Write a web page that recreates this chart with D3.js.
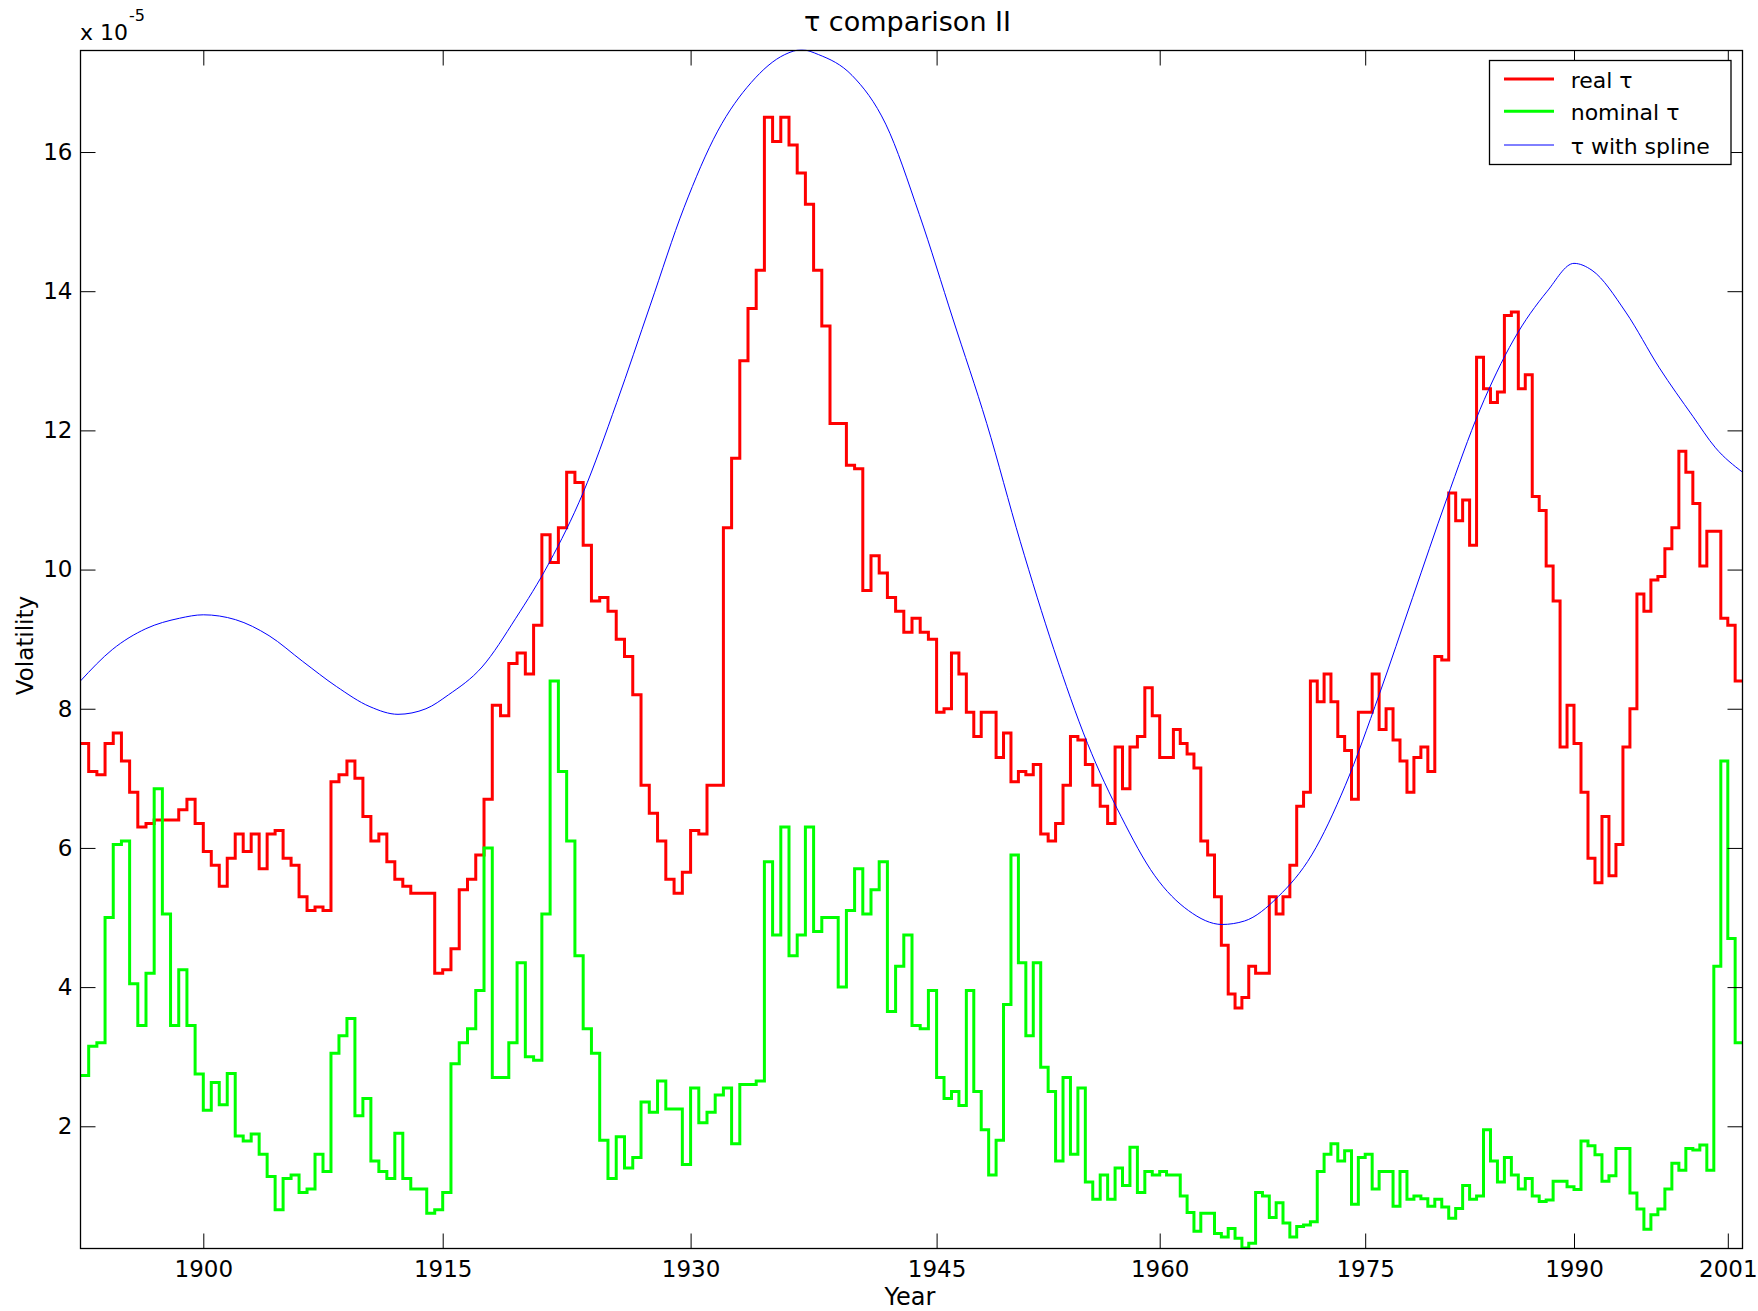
<!DOCTYPE html>
<html>
<head>
<meta charset="utf-8">
<script src="https://cdn.jsdelivr.net/npm/d3@7"></script>
<style>
  html, body { margin: 0; padding: 0; background: #fff; }
  svg { display: block; font-family: "DejaVu Sans", sans-serif; }
</style>
</head>
<body>
<svg id="chart" width="1758" height="1311"></svg>
<script>
// Semi-annual volatility estimates (units of 1e-5), first period starts mid-1892.
const periodStart = 1892.5;
const periodLength = 0.5;

const realTau = [
  7.5,7.1,7.05,7.5,7.65,7.25,6.8,6.3,6.35,6.4,6.4,6.4,6.55,6.7,6.35,
  5.95,5.75,5.45,5.85,6.2,5.95,6.2,5.7,6.2,6.25,5.85,5.75,5.3,5.1,5.15,5.1,6.95,7.05,7.25,7.0,6.45,6.1,6.2,5.8,5.55,5.45,5.35,5.35,5.35,4.2,
  4.25,4.55,5.4,5.55,5.9,6.7,8.05,7.9,8.65,8.8,8.5,9.2,10.5,10.1,10.6,11.4,11.25,10.35,9.55,9.6,9.4,9.0,8.75,8.2,6.9,6.5,6.1,5.55,5.35,5.65,
  6.25,6.2,6.9,6.9,10.6,11.6,13.0,13.75,14.3,16.5,16.15,16.5,16.1,15.7,15.25,14.3,13.5,12.1,12.1,11.5,11.45,9.7,10.2,9.95,9.6,9.4,9.1,9.3,9.1,9.0,
  7.95,8.0,8.8,8.5,7.95,7.6,7.95,7.95,7.3,7.65,6.95,7.1,7.05,7.2,6.2,6.1,6.35,6.9,7.6,7.55,7.2,6.9,6.6,6.35,7.45,6.85,7.45,7.6,8.3,7.9,
  7.3,7.3,7.7,7.5,7.35,7.15,6.1,5.9,5.3,4.6,3.9,3.7,3.85,4.3,4.2,4.2,5.3,5.05,5.3,5.75,6.6,6.8,8.4,8.1,8.5,8.1,7.6,7.4,6.7,7.95,
  7.95,8.5,7.7,8.0,7.55,7.25,6.8,7.3,7.45,7.1,8.75,8.7,11.1,10.7,11.0,10.35,13.05,12.6,12.4,12.55,13.65,13.7,12.6,12.8,11.05,10.85,10.05,9.55,7.45,8.05,
  7.5,6.8,5.85,5.5,6.45,5.6,6.05,7.45,8.0,9.65,9.4,9.85,9.9,10.3,10.6,11.7,11.4,10.95,10.05,10.55,10.55,9.3,
  9.2,8.4
];

const nominalTau = [
  2.73,3.15,3.2,5.0,6.05,6.1,4.05,3.45,4.2,6.85,5.05,3.45,4.25,3.45,2.75,
  2.23,2.63,2.31,2.76,1.86,1.79,1.89,1.6,1.28,0.8,1.25,1.3,1.05,1.1,1.6,1.35,3.05,3.3,3.55,2.15,2.4,1.5,1.35,1.25,1.9,1.25,1.1,1.1,0.75,0.8,
  1.05,2.9,3.2,3.4,3.95,6.0,2.7,2.7,3.2,4.35,3.0,2.95,5.05,8.4,7.1,6.1,4.45,3.4,3.05,1.8,1.25,1.85,1.4,1.55,2.35,2.2,2.65,2.25,2.25,1.45,
  2.55,2.05,2.2,2.45,2.55,1.75,2.6,2.6,2.65,5.8,4.75,6.3,4.45,4.75,6.3,4.8,5.0,5.0,4.0,5.1,5.7,5.05,5.4,5.8,3.65,4.3,4.75,3.45,3.4,3.95,
  2.7,2.4,2.5,2.3,3.95,2.5,1.95,1.3,1.8,3.75,5.9,4.35,3.3,4.35,2.85,2.5,1.5,2.7,1.6,2.55,1.2,0.95,1.3,0.95,1.4,1.15,1.7,1.05,1.35,1.3,
  1.35,1.3,1.3,1.0,0.76,0.49,0.75,0.75,0.46,0.41,0.53,0.39,0.25,0.32,1.05,1.0,0.69,0.9,0.61,0.41,0.56,0.58,0.63,1.35,1.6,1.75,1.5,1.65,0.88,1.55,
  1.6,1.1,1.35,1.35,0.85,1.35,0.95,1.0,0.96,0.85,0.95,0.84,0.68,0.82,1.15,0.95,1.0,1.95,1.5,1.2,1.55,1.3,1.1,1.25,1.0,0.92,0.94,1.21,1.21,1.13,
  1.09,1.79,1.72,1.59,1.21,1.29,1.68,1.68,1.04,0.81,0.52,0.73,0.81,1.1,1.47,1.37,1.68,1.66,1.73,1.37,4.3,7.25,
  4.7,3.2
];

// Spline-smoothed volatility: sample dates (years) and values.
const splineYear = [1892.5,1894.44,1896.49,1898.54,1900,1902.02,1904.12,1906.23,1908.34,1910.44,1912.2,1913.95,1915.35,1917.38,1919.42,1921.45,1923.49,1925.53,1927.56,1929.6,1931.65,1933.7,1935.74,1936.77,1937.8,1939.85,1941.9,1943.95,1946.1,1948.37,1950.63,1952.89,1955.15,1957.41,1959.67,1962.1,1964.55,1966.19,1968.65,1971.1,1973.55,1976.0,1978.41,1980.83,1983.25,1985.66,1988.08,1990.0,1991.29,1993.7,1996.1,1998.51,2000.12,2002];
const splineTau  = [8.4,8.85,9.15,9.3,9.35,9.28,9.05,8.68,8.32,8.03,7.92,8.0,8.2,8.6,9.3,10.1,11.1,12.4,13.8,15.2,16.3,17.0,17.4,17.47,17.4,17.1,16.4,15.1,13.6,12.1,10.4,8.85,7.5,6.45,5.6,5.1,4.9,4.95,5.3,5.9,6.9,8.2,9.6,11.0,12.3,13.3,14.0,14.4,14.3,13.7,12.9,12.2,11.75,11.4];

const yearTicks = [1900,1915,1930,1945,1960,1975,1990,2001];
const voltTicks = [2,4,6,8,10,12,14,16];
const voltRange = [0.241, 17.466];

const plot = {left: 80.5, right: 1742.5, top: 50.5, bottom: 1248.5};

// The horizontal axis runs in trading time, so calendar years are not evenly spaced:
// the scale is piecewise linear between the labelled years.
const xAnchorsYear = [1892.5, 1900, 1915, 1930, 1945, 1960, 1975, 1990, 2001, 2002];
const xAnchorsPx   = [80.5, 203.3, 442.7, 690.6, 936.6, 1159.7, 1365.2, 1574.0, 1727.8, 1742.5];
const x = d3.scaleLinear().domain(xAnchorsYear).range(xAnchorsPx);
const y = d3.scaleLinear().domain(voltRange).range([1248.7, 50]);

const svg = d3.select("#chart");
svg.append("defs").append("clipPath").attr("id", "plotClip")
  .append("rect").attr("x", plot.left).attr("y", plot.top - 1)
  .attr("width", plot.right - plot.left).attr("height", plot.bottom - plot.top + 2);

// one point per period start plus a closing point at the end of the last period
function periodPoints(values) {
  const pts = values.map((v, i) => [periodStart + i * periodLength, v]);
  pts.push([periodStart + values.length * periodLength, values[values.length - 1]]);
  return pts;
}

const stepLine = d3.line().x(d => x(d[0])).y(d => y(d[1])).curve(d3.curveStepAfter);
const smoothLine = d3.line().x(d => x(d[0])).y(d => y(d[1])).curve(d3.curveMonotoneX);

const g = svg.append("g").attr("clip-path", "url(#plotClip)");
g.append("path").datum(periodPoints(realTau))
  .attr("d", stepLine).attr("fill", "none").attr("stroke", "#ff0000").attr("stroke-width", 3);
g.append("path").datum(periodPoints(nominalTau))
  .attr("d", stepLine).attr("fill", "none").attr("stroke", "#00ff00").attr("stroke-width", 3);
g.append("path").datum(splineYear.map((t, i) => [t, splineTau[i]]))
  .attr("d", smoothLine).attr("fill", "none").attr("stroke", "#0000ff").attr("stroke-width", 1);

// axes on all four sides with inward ticks
const tickLen = 15;
const bottomAxis = d3.axisBottom(x).tickValues(yearTicks).tickFormat(d3.format("d"))
  .tickSizeInner(-tickLen).tickSizeOuter(0).tickPadding(12);
const topAxis = d3.axisTop(x).tickValues(yearTicks).tickFormat("").tickSizeInner(-tickLen).tickSizeOuter(0);
const leftAxis = d3.axisLeft(y).tickValues(voltTicks).tickFormat(d3.format("d"))
  .tickSizeInner(-tickLen).tickSizeOuter(0).tickPadding(8);
const rightAxis = d3.axisRight(y).tickValues(voltTicks).tickFormat("").tickSizeInner(-tickLen).tickSizeOuter(0);

function styleAxis(sel) {
  sel.select(".domain").remove();
  sel.attr("font-family", null).attr("font-size", null);
  sel.selectAll("line").attr("stroke", "#000").attr("stroke-width", 1);
  sel.selectAll("text").attr("fill", "#000").style("font-size", "23px");
}

svg.append("g").attr("transform", `translate(0,${plot.bottom})`).call(bottomAxis).call(styleAxis);
svg.append("g").attr("transform", `translate(0,${plot.top})`).call(topAxis).call(styleAxis);
svg.append("g").attr("transform", `translate(${plot.left},0)`).call(leftAxis).call(styleAxis);
svg.append("g").attr("transform", `translate(${plot.right},0)`).call(rightAxis).call(styleAxis);

svg.append("rect").attr("x", plot.left).attr("y", plot.top)
  .attr("width", plot.right - plot.left).attr("height", plot.bottom - plot.top)
  .attr("fill", "none").attr("stroke", "#000").attr("stroke-width", 1.3);

// titles and axis labels
svg.append("text").attr("x", 907.5).attr("y", 31)
  .attr("text-anchor", "middle").style("font-size", "27px").text("τ comparison II");
svg.append("text").attr("x", 910).attr("y", 1305)
  .attr("text-anchor", "middle").style("font-size", "24px").text("Year");
svg.append("text").attr("transform", "translate(33,645.6) rotate(-90)")
  .attr("text-anchor", "middle").style("font-size", "23px").text("Volatility");

svg.append("text").attr("x", 80).attr("y", 40).style("font-size", "22px").text("x 10");
svg.append("text").attr("x", 129).attr("y", 20.5).style("font-size", "16px").text("-5");

// legend
const legendItems = [
  {label: "real τ", color: "#ff0000", width: 3},
  {label: "nominal τ", color: "#00ff00", width: 3},
  {label: "τ with spline", color: "#0000ff", width: 1}
];
const rowY = [79, 111.3, 145];
const lg = svg.append("g");
lg.append("rect").attr("x", 1489.5).attr("y", 60.5).attr("width", 241.5).attr("height", 104)
  .attr("fill", "#fff").attr("stroke", "#000").attr("stroke-width", 1.3);
legendItems.forEach((it, i) => {
  lg.append("line").attr("x1", 1504).attr("x2", 1554).attr("y1", rowY[i]).attr("y2", rowY[i])
    .attr("stroke", it.color).attr("stroke-width", it.width);
  lg.append("text").attr("x", 1570.7).attr("y", rowY[i] + 8.5).style("font-size", "22px").text(it.label);
});
</script>
</body>
</html>
